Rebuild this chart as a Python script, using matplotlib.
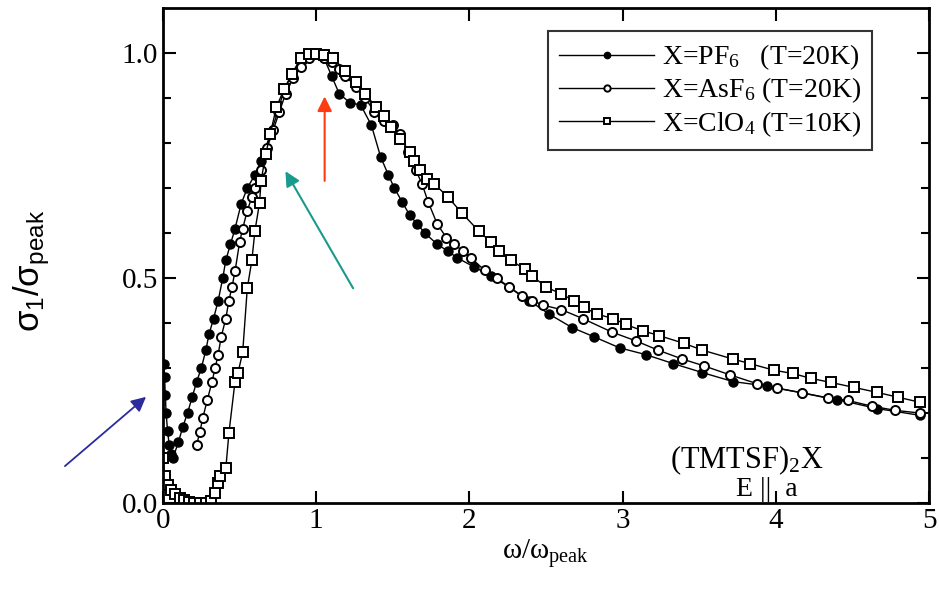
import matplotlib
matplotlib.use("Agg")
import matplotlib.pyplot as plt

plt.rcParams['font.family'] = ['Liberation Serif', 'DejaVu Serif']
plt.rcParams['mathtext.default'] = 'regular'

# X=PF6 (T=20K), filled circles
pf6_x = [0.005, 0.01, 0.015, 0.02, 0.03, 0.04, 0.05, 0.065, 0.10, 0.13, 0.16, 0.19, 0.22,
         0.25, 0.28, 0.30, 0.33, 0.36, 0.39, 0.41, 0.44, 0.47, 0.51, 0.55, 0.60, 0.64, 0.70,
         0.75, 0.79, 0.84, 0.90, 0.95, 1.00, 1.05, 1.10, 1.15, 1.22, 1.29, 1.36, 1.42, 1.47,
         1.51, 1.56, 1.61, 1.66, 1.71, 1.79, 1.86, 1.92, 2.03, 2.14, 2.26, 2.39, 2.52, 2.67,
         2.81, 2.98, 3.15, 3.33, 3.52, 3.72, 3.94, 4.17, 4.40, 4.66, 4.94]
pf6_y = [0.31, 0.28, 0.24, 0.20, 0.16, 0.13, 0.11, 0.10, 0.135, 0.17, 0.20, 0.235, 0.27,
         0.30, 0.34, 0.375, 0.41, 0.45, 0.50, 0.54, 0.575, 0.61, 0.665, 0.70, 0.73, 0.76, 0.82,
         0.87, 0.92, 0.95, 0.98, 0.99, 1.00, 0.99, 0.95, 0.91, 0.89, 0.885, 0.84, 0.77, 0.73,
         0.70, 0.67, 0.64, 0.62, 0.60, 0.575, 0.56, 0.545, 0.525, 0.505, 0.48, 0.45, 0.42, 0.39,
         0.37, 0.345, 0.33, 0.31, 0.29, 0.27, 0.26, 0.245, 0.23, 0.21, 0.195]

# X=AsF6 (T=20K), open circles
asf6_x = [0.22, 0.24, 0.26, 0.29, 0.32, 0.34, 0.36, 0.38, 0.41, 0.43, 0.45, 0.47, 0.50, 0.52,
          0.55, 0.58, 0.60, 0.64, 0.68, 0.72, 0.76, 0.80, 0.85, 0.90, 0.95, 1.00, 1.05, 1.10,
          1.15, 1.19, 1.26, 1.32, 1.38, 1.44, 1.50, 1.55, 1.60, 1.65, 1.69, 1.73, 1.79, 1.85,
          1.90, 1.96, 2.01, 2.10, 2.18, 2.26, 2.34, 2.41, 2.48, 2.60, 2.74, 2.93, 3.09, 3.23,
          3.39, 3.53, 3.70, 3.88, 4.01, 4.17, 4.34, 4.47, 4.63, 4.78, 4.94]
asf6_y = [0.13, 0.157, 0.19, 0.23, 0.27, 0.30, 0.33, 0.37, 0.41, 0.45, 0.48, 0.515, 0.58, 0.61,
          0.65, 0.68, 0.70, 0.74, 0.79, 0.83, 0.87, 0.91, 0.945, 0.97, 0.99, 1.00, 0.99, 0.98,
          0.965, 0.95, 0.925, 0.90, 0.87, 0.85, 0.84, 0.82, 0.78, 0.74, 0.71, 0.67, 0.62, 0.59,
          0.575, 0.56, 0.545, 0.517, 0.50, 0.48, 0.46, 0.45, 0.44, 0.43, 0.41, 0.38, 0.36, 0.34,
          0.32, 0.305, 0.285, 0.265, 0.255, 0.245, 0.233, 0.228, 0.215, 0.206, 0.20]

# X=ClO4 (T=10K), open squares
clo4_x = [0.0, 0.01, 0.03, 0.05, 0.08, 0.11, 0.14, 0.17, 0.20, 0.24, 0.28, 0.31, 0.34, 0.36,
          0.375, 0.41, 0.43, 0.47, 0.49, 0.52, 0.55, 0.58, 0.60, 0.63, 0.64, 0.67, 0.70, 0.74,
          0.79, 0.84, 0.90, 0.95, 1.00, 1.05, 1.11, 1.19, 1.26, 1.32, 1.39, 1.44, 1.49, 1.55,
          1.61, 1.64, 1.68, 1.72, 1.77, 1.86, 1.95, 2.06, 2.14, 2.19, 2.27, 2.36, 2.41, 2.50,
          2.60, 2.68, 2.75, 2.83, 2.94, 3.02, 3.13, 3.24, 3.40, 3.52, 3.72, 3.83, 3.99, 4.11,
          4.23, 4.36, 4.51, 4.66, 4.80, 4.94]
clo4_y = [0.10, 0.06, 0.04, 0.03, 0.02, 0.012, 0.006, 0.003, 0.0, 0.0, 0.0, 0.005, 0.022, 0.045,
          0.06, 0.077, 0.155, 0.27, 0.29, 0.335, 0.477, 0.54, 0.605, 0.667, 0.716, 0.775, 0.82, 0.88,
          0.92, 0.953, 0.99, 0.998, 0.998, 0.995, 0.99, 0.96, 0.935, 0.91, 0.88, 0.86, 0.835, 0.81,
          0.78, 0.76, 0.74, 0.72, 0.71, 0.68, 0.645, 0.605, 0.58, 0.56, 0.54, 0.52, 0.505, 0.48,
          0.465, 0.45, 0.435, 0.42, 0.41, 0.397, 0.383, 0.372, 0.355, 0.34, 0.32, 0.31, 0.295, 0.288,
          0.277, 0.268, 0.257, 0.246, 0.235, 0.224]

fig = plt.figure(figsize=(9.39, 5.89), dpi=100)
ax = fig.add_axes([0.1736, 0.146, 0.8158, 0.840])

ax.plot(pf6_x, pf6_y, '-o', color='black', mfc='black', ms=6.5, lw=1,
        label='X=PF$_6$   (T=20K)')
ax.plot(asf6_x, asf6_y, '-o', color='black', mfc='white', ms=6.5, mew=1.4, lw=1,
        label='X=AsF$_6$ (T=20K)')
ax.plot(clo4_x, clo4_y, '-s', color='black', mfc='white', ms=7, mew=1.4, lw=1,
        label='X=ClO$_4$ (T=10K)')

ax.set_xlim(0, 5)
ax.set_ylim(0, 1.1)
ax.set_xticks([0, 1, 2, 3, 4, 5])
ax.set_yticks([0.0, 0.5, 1.0])
ax.set_yticklabels(['0.0', '0.5', '1.0'])
ax.set_yticks([0.1, 0.2, 0.3, 0.4, 0.6, 0.7, 0.8, 0.9], minor=True)
ax.tick_params(which='both', direction='in', top=True, right=True, labelsize=21, width=1.5)
ax.tick_params(which='major', length=9)
ax.tick_params(which='minor', length=6)
for s in ax.spines.values():
    s.set_linewidth(2)

ax.set_xlabel('ω/ω$_{peak}$', fontsize=21, labelpad=2)
ax.set_ylabel('σ$_1$/σ$_{peak}$', fontsize=25, family=['Liberation Sans', 'DejaVu Sans'])
ax.yaxis.set_label_coords(-0.145, 0.47)

leg = ax.legend(loc='upper right', bbox_to_anchor=(0.926, 0.953), fontsize=20,
                frameon=True, fancybox=False, edgecolor='black', handlelength=3.4,
                handletextpad=0.3, labelspacing=0.12, borderpad=0.4, markerscale=0.7,
                borderaxespad=0)
leg.get_frame().set_linewidth(1.5)

ax.text(3.81, 0.095, '(TMTSF)$_2$X', fontsize=22, ha='center', va='center')
ax.text(3.94, 0.03, 'E ||  a', fontsize=20, ha='center', va='center')

# coloured arrows
ax.annotate('', xy=(-0.097, 0.24), xytext=(-0.654, 0.078), annotation_clip=False,
            arrowprops=dict(arrowstyle='-|>', color='#2b2b9c', lw=1.3, mutation_scale=22))
ax.annotate('', xy=(0.79, 0.743), xytext=(1.25, 0.472),
            arrowprops=dict(arrowstyle='-|>', color='#1a9a8c', lw=1.5, mutation_scale=22))
ax.annotate('', xy=(1.055, 0.91), xytext=(1.055, 0.71),
            arrowprops=dict(arrowstyle='-|>', color='#ff3b12', lw=1.5, mutation_scale=22))

fig.savefig('out.png', dpi=100)
